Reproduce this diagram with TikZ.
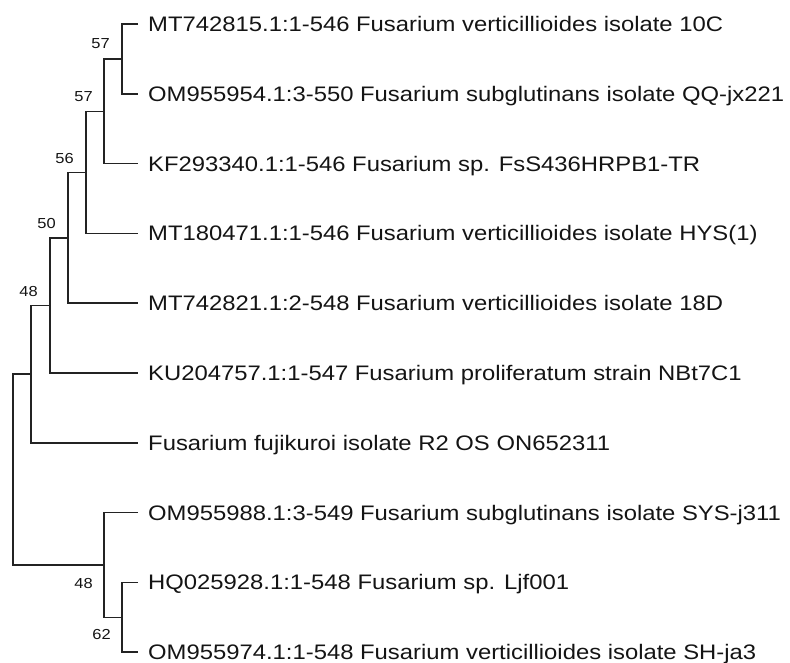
\documentclass[tikz,border=0pt]{standalone}
\usepackage{fontspec}
\setmainfont{Liberation Sans}[FakeStretch=1.135]
\usetikzlibrary{positioning}
\definecolor{treeline}{RGB}{35,35,35}
\definecolor{labeltext}{RGB}{20,20,20}

\begin{document}
\begin{tikzpicture}[
  x=1pt,y=-1pt,
  branch/.style={draw=treeline,line width=1.6pt},
  leaf/.style={font=\fontsize{21}{25}\selectfont,text=labeltext,inner sep=0pt,
    text height=15pt,text depth=0pt},
  boot/.style={font=\fontsize{14.5}{16}\selectfont,text=labeltext,inner sep=0pt}
]
\useasboundingbox (0,0) rectangle (790,663);

% -------------------------------------------------------------------------
% tips of the tree
% -------------------------------------------------------------------------
\foreach \i in {1,...,10}
  {\coordinate (l\i) at (138,{24+69.8*(\i-1)});}

\node[leaf,right=10pt of l1] (t1) {MT742815.1:1-546 Fusarium verticillioides isolate 10C};
\node[leaf,right=10pt of l2] (t2) {OM955954.1:3-550 Fusarium subglutinans isolate QQ-jx221};
\node[leaf,right=10pt of l3] (t3) {KF293340.1:1-546 Fusarium sp. FsS436HRPB1-TR};
\node[leaf,right=10pt of l4] (t4) {MT180471.1:1-546 Fusarium verticillioides isolate HYS(1)};
\node[leaf,right=10pt of l5] (t5) {MT742821.1:2-548 Fusarium verticillioides isolate 18D};
\node[leaf,right=10pt of l6] (t6) {KU204757.1:1-547 Fusarium proliferatum strain NBt7C1};
\node[leaf,right=10pt of l7] (t7) {Fusarium fujikuroi isolate R2 OS ON652311};
\node[leaf,right=10pt of l8] (t8) {OM955988.1:3-549 Fusarium subglutinans isolate SYS-j311};
\node[leaf,right=10pt of l9] (t9) {HQ025928.1:1-548 Fusarium sp. Ljf001};
\node[leaf,right=10pt of l10] (t10) {OM955974.1:1-548 Fusarium verticillioides isolate SH-ja3};

% -------------------------------------------------------------------------
% internal nodes
% -------------------------------------------------------------------------
\coordinate (nA) at (122,58.9);
\coordinate (nB) at (104,111.5);
\coordinate (nC) at (86,172.5);
\coordinate (nD) at (68,237.8);
\coordinate (nE) at (50,305.5);
\coordinate (nF) at (31,374.2);
\coordinate (nH) at (122,617.3);
\coordinate (nG) at (104,565);
\coordinate (root) at (13,469.6);

\foreach \a/\b/\c in {l1/nA/l2,nA/nB/l3,nB/nC/l4,nC/nD/l5,nD/nE/l6,nE/nF/l7,
    l9/nH/l10,l8/nG/nH,nF/root/nG}
  {\draw[branch] (\a) -| (\b) |- (\c);}

% bootstrap values
\node[boot,above left=10pt and 12pt of nA] (bA) {57};
\node[boot,above left=10pt and 11pt of nB] (bB) {57};
\node[boot,above left=9pt and 12pt of nC] (bC) {56};
\node[boot,above left=9pt and 12pt of nD] (bD) {50};
\node[boot,above left=9pt and 12pt of nE] (bE) {48};
\node[boot,below left=13pt and 11pt of nG] (bG) {48};
\node[boot,below left=12pt and 11pt of nH] (bH) {62};
\end{tikzpicture}
\end{document}
